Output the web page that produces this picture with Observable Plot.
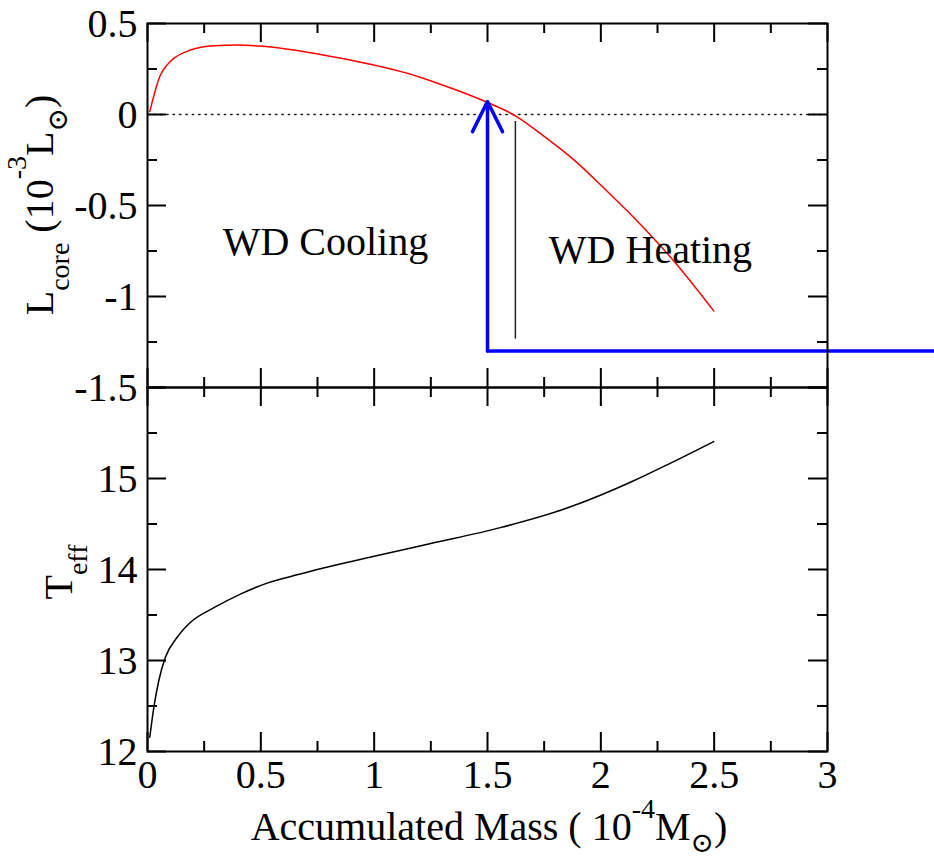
<!DOCTYPE html>
<html><head><meta charset="utf-8">
<script src="https://cdn.jsdelivr.net/npm/d3@7"></script>
<script src="https://cdn.jsdelivr.net/npm/@observablehq/plot@0.6"></script>
<style>
body{margin:0;background:#fff;}
#wrap{position:relative;width:934px;height:861px;overflow:hidden;background:#fff;}
#wrap svg{position:absolute;left:0;overflow:visible;}
</style></head><body><div id="wrap"></div>
<script>
// ---- data ----
const massL = [0.01, 0.057, 0.085, 0.116, 0.19, 0.293, 0.396, 0.498, 0.763, 0.998, 1.15, 1.292, 1.498, 1.623, 1.75, 1.88, 2.028, 2.175, 2.322, 2.498];
const lcore = [0.016, 0.217, 0.27, 0.308, 0.354, 0.378, 0.382, 0.376, 0.330, 0.272, 0.225, 0.166, 0.067, -0.007, -0.12, -0.248, -0.422, -0.604, -0.805, -1.079];
const massT = [0.01, 0.028, 0.05, 0.079, 0.131, 0.19, 0.293, 0.41, 0.528, 0.674, 0.749, 1.0, 1.25, 1.557, 1.851, 2.145, 2.292, 2.498];
const teff = [12.157, 12.486, 12.78, 13.035, 13.255, 13.42, 13.58, 13.73, 13.85, 13.95, 14.0, 14.145, 14.285, 14.46, 14.675, 14.975, 15.15, 15.406];

const xMajor = [0, 0.5, 1, 1.5, 2, 2.5, 3];
const xMinor = [0.25, 0.75, 1.25, 1.75, 2.25, 2.75];
const xTickLabels = ["0", "0.5", "1", "1.5", "2", "2.5", "3"];
const lMajor = [-1.5, -1, -0.5, 0, 0.5];
const lMinor = [-1.25, -0.75, -0.25, 0.25];
const lTickLabels = ["-1.5", "-1", "-0.5", "0", "0.5"];
const tMajor = [12, 13, 14, 15, 16];
const tMinor = [12.5, 13.5, 14.5, 15.5];
const tTickLabels = ["12", "13", "14", "15", ""];

const blueX = [3.48, 1.5];
const blueY = [-1.3, -1.3];
const arrowData = [{x1: 1.5, y1: -1.3, x2: 1.5, y2: 0.071}];
const dividerData = [{x: 1.623, y1: -0.038, y2: -1.234}];
const zeroX = [0, 3];
const zeroY = [0, 0];
const regionLabels = [
  {text: "WD Cooling", x: 0.785, y: -0.70},
  {text: "WD Heating", x: 2.219, y: -0.748}
];

(function () {
// ---- layout ----
const W = 934, ML = 147, MR = 107;
const FONT = "'Liberation Serif', 'Times New Roman', 'DejaVu Serif', serif";
const fw = W - ML - MR;

function frameTicks(xMaj, xMin, yMaj, yMin, fh) {
  const M = 19, m = 10, sw = 2;
  return [
    Plot.tickX(xMaj, {x: d => d, insetTop: fh - M, strokeWidth: sw}),
    Plot.tickX(xMaj, {x: d => d, insetBottom: fh - M, strokeWidth: sw}),
    Plot.tickX(xMin, {x: d => d, insetTop: fh - m, strokeWidth: sw}),
    Plot.tickX(xMin, {x: d => d, insetBottom: fh - m, strokeWidth: sw}),
    Plot.tickY(yMaj, {y: d => d, insetRight: fw - M, strokeWidth: sw}),
    Plot.tickY(yMaj, {y: d => d, insetLeft: fw - M, strokeWidth: sw}),
    Plot.tickY(yMin, {y: d => d, insetRight: fw - m, strokeWidth: sw}),
    Plot.tickY(yMin, {y: d => d, insetLeft: fw - m, strokeWidth: sw})
  ];
}

const wrap = document.getElementById("wrap");

// top panel
const topH = 387, topMT = 23;
const topSvg = Plot.plot({
  width: W, height: topH, marginLeft: ML, marginRight: MR, marginTop: topMT, marginBottom: 0,
  style: {fontFamily: FONT, background: "transparent", color: "black"},
  x: {domain: [0, 3], axis: null},
  y: {domain: [-1.5, 0.5], axis: null},
  marks: [
    Plot.line(zeroX, {x: d => d, y: (d, i) => zeroY[i], stroke: "#111", strokeWidth: 1.4, strokeDasharray: "1.4,5"}),
    Plot.line(massL, {x: d => d, y: (d, i) => lcore[i], stroke: "#ff0000", strokeWidth: 1.5, curve: "monotone-x"}),
    Plot.ruleX(dividerData, {x: "x", y1: "y1", y2: "y2", stroke: "#222", strokeWidth: 1.5}),
    Plot.line(blueX, {x: d => d, y: (d, i) => blueY[i], stroke: "#0000ff", strokeWidth: 3.5}),
    Plot.arrow(arrowData, {x1: "x1", y1: "y1", x2: "x2", y2: "y2", stroke: "#0000ff", strokeWidth: 3.5, headLength: 14.4, headAngle: 53}),
    Plot.text(regionLabels, {x: "x", y: "y", text: "text", fontSize: 40, textAnchor: "middle", fill: "black"}),
    Plot.axisY(lMajor, {tickSize: 0, tickPadding: 10, fontSize: 40, dy: 1, label: null, tickFormat: d => lTickLabels[lMajor.indexOf(d)]}),
    ...frameTicks(xMajor, xMinor, lMajor, lMinor, topH - topMT),
    Plot.frame({stroke: "black", strokeWidth: 2})
  ]
});
topSvg.style.top = "0px";
wrap.appendChild(topSvg);

// bottom panel
const botTop = 370, botH = 491, botMT = 17, botMB = 110;
const botSvg = Plot.plot({
  width: W, height: botH, marginLeft: ML, marginRight: MR, marginTop: botMT, marginBottom: botMB,
  style: {fontFamily: FONT, background: "transparent", color: "black"},
  x: {domain: [0, 3]},
  y: {domain: [12, 16]},
  marks: [
    Plot.line(massT, {x: d => d, y: (d, i) => teff[i], stroke: "black", strokeWidth: 1.5, curve: "monotone-x"}),
    Plot.axisY(tMajor, {tickSize: 0, tickPadding: 10, fontSize: 40, dy: 1, label: null, tickFormat: d => tTickLabels[tMajor.indexOf(d)]}),
    Plot.axisX(xMajor, {tickSize: 0, tickPadding: 8, fontSize: 40, label: null, tickFormat: d => xTickLabels[xMajor.indexOf(d)]}),
    ...frameTicks(xMajor, xMinor, tMajor, tMinor, botH - botMT - botMB),
    Plot.frame({stroke: "black", strokeWidth: 2})
  ]
});
botSvg.style.top = botTop + "px";
wrap.appendChild(botSvg);

// axis titles with sub/superscripts
function addText(svg, transform, parts) {
  const t = d3.select(svg).append("text")
    .attr("transform", transform)
    .attr("text-anchor", "middle")
    .attr("fill", "black")
    .style("font-family", FONT)
    .style("font-size", "40px");
  for (const p of parts) {
    const s = t.append("tspan").text(p.t);
    if (p.size) s.style("font-size", p.size + "px");
    if (p.dy) s.attr("dy", p.dy);
  }
}
const SUB = 28;
addText(topSvg, "translate(53,205) rotate(-90)", [
  {t: "L"}, {t: "core", size: SUB, dy: 16}, {t: " (10", dy: -16},
  {t: "-3", size: SUB, dy: -27}, {t: "L", dy: 27}, {t: "\u2299", size: SUB, dy: 14}, {t: ")", dy: -14}
]);
addText(botSvg, "translate(72," + (572 - botTop) + ") rotate(-90)", [
  {t: "T"}, {t: "eff", size: SUB, dy: 15}
]);
addText(botSvg, "translate(489," + (840 - botTop) + ")", [
  {t: "Accumulated Mass ( 10"}, {t: "-4", size: SUB, dy: -22}, {t: "M", dy: 22},
  {t: "\u2299", size: SUB, dy: 12}, {t: ")", dy: -12}
]);
})();
</script>
</body></html>
